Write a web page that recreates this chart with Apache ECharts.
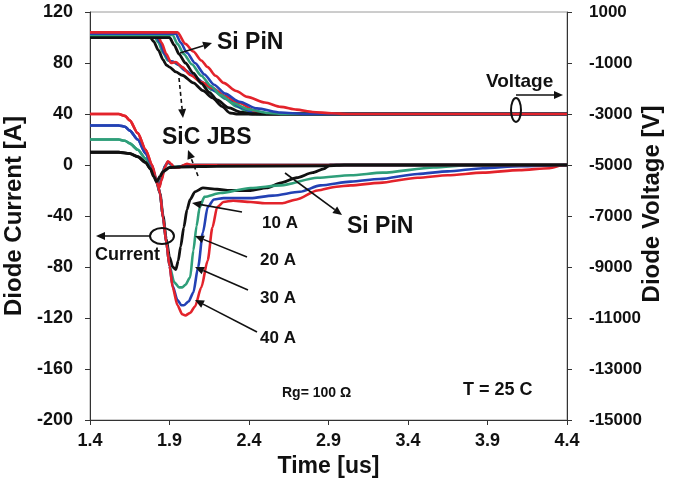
<!DOCTYPE html>
<html><head><meta charset="utf-8">
<script src="https://cdn.jsdelivr.net/npm/echarts@6/dist/echarts.min.js"></script>
<style>html,body{margin:0;padding:0;background:#fff}#c{width:676px;height:482px}</style>
</head><body><div id="c"></div>
<script>
// ---- tick labels ----
const timeTicks = [1.4, 1.9, 2.4, 2.9, 3.4, 3.9, 4.4];
const currentTicks = [-200, -160, -120, -80, -40, 0, 40, 80, 120];
const voltageTicks = [-15000, -13000, -11000, -9000, -7000, -5000, -3000, -1000, 1000];

// ---- diode current [A] vs time [us] : Si PiN ----
const pinRedI = [[1.40,40],[1.58,40],[1.62,38.5],[1.65,35],[1.70,25],[1.75,12],[1.79,0],[1.82,-12],[1.84,-22],[1.86,-42],[1.88,-61],[1.90,-79],[1.92,-96],[1.95,-110],[1.98,-117],[2.00,-118],[2.03,-116],[2.06,-111],[2.10,-96],[2.14,-75],[2.17,-49],[2.20,-33],[2.24,-29],[2.30,-28],[2.41,-29],[2.50,-30],[2.61,-30],[2.70,-27],[2.83,-20],[2.95,-17],[3.04,-16],[3.22,-14],[3.46,-10],[3.65,-8],[3.87,-6],[4.10,-4],[4.29,-2.5],[4.38,0],[4.40,0]];
const pinBlueI = [[1.40,31],[1.58,31],[1.62,30],[1.65,27],[1.70,20],[1.75,9],[1.79,-1],[1.82,-13],[1.84,-22],[1.86,-42],[1.88,-61],[1.90,-79],[1.92,-95],[1.95,-106],[1.975,-110],[1.99,-110],[2.02,-107],[2.05,-100],[2.08,-80],[2.11,-53],[2.14,-33],[2.18,-27],[2.24,-26],[2.41,-26],[2.55,-24],[2.72,-21],[2.85,-16],[3.04,-13],[3.22,-11],[3.46,-7],[3.65,-5],[3.87,-2.5],[4.10,-1],[4.38,0],[4.40,0]];
const pinGreenI = [[1.40,20],[1.58,20],[1.62,19],[1.65,17],[1.70,12],[1.75,5],[1.79,-3],[1.82,-13],[1.84,-22],[1.86,-42],[1.88,-61],[1.90,-79],[1.93,-92],[1.96,-96],[1.98,-96],[2.00,-94],[2.03,-88],[2.05,-67],[2.07,-48],[2.09,-33],[2.12,-25],[2.22,-22],[2.41,-18],[2.60,-16],[2.83,-10],[3.04,-8],[3.24,-6],[3.56,-2],[3.80,0],[4.40,0]];
const pinBlackI = [[1.40,10],[1.58,10],[1.65,9],[1.70,6.5],[1.75,2],[1.78,-3],[1.80,-7],[1.82,-14],[1.84,-22],[1.86,-40],[1.88,-58],[1.90,-72],[1.92,-80],[1.94,-82],[1.955,-75],[1.97,-64],[1.99,-49],[2.01,-35],[2.03,-27],[2.06,-21],[2.11,-18],[2.20,-19],[2.28,-20],[2.41,-20],[2.51,-18],[2.60,-14],[2.70,-10],[2.80,-6],[2.87,-3],[2.91,0],[4.40,0]];

// ---- diode current [A] : SiC JBS ----
const sicRedI = [[1.40,40],[1.58,40],[1.62,38.5],[1.65,35],[1.70,25],[1.75,12],[1.79,0],[1.81,-10],[1.835,-18],[1.85,-12],[1.87,-2],[1.89,3],[1.91,1],[1.93,-2],[1.96,-2],[1.99,0],[2.01,1],[2.04,0],[4.40,0]];
const sicBlueI = [[1.40,31],[1.58,31],[1.62,30],[1.65,27],[1.70,20],[1.75,9],[1.79,-1],[1.81,-10],[1.835,-17],[1.85,-11],[1.87,-1],[1.89,2.5],[1.91,0.5],[1.93,-2],[1.96,-1.5],[2.00,0],[4.40,0]];
const sicGreenI = [[1.40,20],[1.58,20],[1.62,19],[1.65,17],[1.70,12],[1.75,5],[1.79,-3],[1.81,-10],[1.835,-16],[1.85,-10],[1.87,-1],[1.89,2],[1.91,0],[1.93,-1.5],[1.97,-1],[2.00,0],[4.40,0]];
const sicBlackI = [[1.40,10],[1.58,10],[1.65,9],[1.70,6.5],[1.75,2],[1.78,-3],[1.80,-9],[1.82,-13],[1.84,-9],[1.86,-5],[1.90,-2],[1.97,-1.5],[2.20,-1],[2.90,-0.5],[3.00,0],[4.40,0]];

// ---- diode voltage [V] : SiC JBS ----
const sicBlackV = [[1.40,0],[1.78,0],[1.80,-150],[1.83,-500],[1.86,-880],[1.88,-1080],[1.90,-1160],[1.94,-1350],[1.98,-1480],[2.05,-1780],[2.11,-2080],[2.17,-2370],[2.23,-2700],[2.28,-2960],[2.32,-3000],[4.40,-3000]];
const sicGreenV = [[1.40,100],[1.80,100],[1.83,-200],[1.86,-600],[1.89,-900],[1.92,-950],[1.95,-1050],[1.99,-1250],[2.04,-1470],[2.10,-1760],[2.17,-2060],[2.25,-2400],[2.32,-2700],[2.40,-2930],[2.45,-3000],[4.40,-3000]];
const sicBlueV = [[1.40,150],[1.81,150],[1.84,-200],[1.87,-650],[1.90,-920],[1.93,-960],[1.96,-1080],[2.00,-1300],[2.05,-1500],[2.12,-1800],[2.19,-2100],[2.27,-2450],[2.35,-2750],[2.43,-2950],[2.48,-3000],[4.40,-3000]];
const sicRedV = [[1.40,200],[1.82,200],[1.85,-200],[1.88,-650],[1.91,-1000],[1.94,-960],[1.98,-1160],[2.03,-1470],[2.10,-1750],[2.17,-1980],[2.25,-2300],[2.34,-2570],[2.45,-2920],[2.51,-3000],[4.40,-3000]];

// ---- diode voltage [V] : Si PiN ----
const pinBlackV = [[1.40,0],[1.90,0],[1.93,-300],[1.96,-650],[2.00,-1000],[2.05,-1400],[2.10,-1800],[2.15,-2150],[2.20,-2450],[2.27,-2750],[2.35,-2930],[2.42,-3000],[4.40,-3000]];
const pinGreenV = [[1.40,100],[1.92,100],[1.95,-250],[1.99,-650],[2.04,-1050],[2.10,-1500],[2.16,-1900],[2.22,-2250],[2.30,-2580],[2.40,-2820],[2.52,-2960],[2.62,-3000],[4.40,-3000]];
const pinBlueV = [[1.40,150],[1.94,150],[1.97,-200],[2.01,-600],[2.06,-1000],[2.12,-1450],[2.18,-1850],[2.25,-2200],[2.34,-2520],[2.45,-2780],[2.60,-2940],[2.75,-3000],[4.40,-3000]];
const pinRedV = [[1.40,200],[1.95,200],[2.00,-250],[2.05,-550],[2.10,-900],[2.14,-1160],[2.19,-1500],[2.24,-1780],[2.32,-2100],[2.39,-2330],[2.50,-2550],[2.60,-2720],[2.70,-2830],[2.80,-2920],[2.92,-2970],[3.02,-3000],[4.40,-3000]];

// ---- build ----
const T0 = timeTicks[0];
const V0 = voltageTicks[0];
const C = {red:'#e3232b', blue:'#2341b4', green:'#2f9f7a', black:'#111111'};
const FONT = 'Liberation Sans, Arial, sans-serif';
const LW = 2.6;

function cur(name, data, color, w){
  return {name, type:'line', yAxisIndex:0, showSymbol:false, symbol:'none', smooth:0.25, smoothMonotone:'x',
    lineStyle:{color, width:w||LW}, data:data.map(p=>[+(p[0]-T0).toFixed(4), p[1]]), animation:false, silent:true};
}
function vol(name, data, color, w){
  return {name, type:'line', yAxisIndex:1, showSymbol:false, symbol:'none', smooth:0.25, smoothMonotone:'x',
    lineStyle:{color, width:w||LW}, data:data.map(p=>[+(p[0]-T0).toFixed(4), p[1]-V0]), animation:false, silent:true};
}

function arrow(x1,y1,x2,y2,dashed){
  const a = Math.atan2(y2-y1, x2-x1), L=9, H=4;
  const bx = x2 - L*Math.cos(a), by = y2 - L*Math.sin(a);
  const p1=[bx + H*Math.sin(a), by - H*Math.cos(a)], p2=[bx - H*Math.sin(a), by + H*Math.cos(a)];
  return [
    {type:'line', shape:{x1,y1,x2:bx,y2:by}, style:{stroke:'#111', lineWidth:1.6, lineDash: dashed?[4,3]:null}, z:100},
    {type:'polygon', shape:{points:[[x2,y2],p1,p2]}, style:{fill:'#111'}, z:100}
  ];
}
function T(x,y,s,size,rot){
  const o = {type:'text', x:x, y:y, z:100, style:{text:s, fill:'#111', font:'bold '+size+'px '+FONT, verticalAlign:'middle', textVerticalAlign:'middle'}};
  if (rot){ o.rotation = rot; o.style.align='center'; o.style.textAlign='center'; }
  return o;
}

const graphics = [].concat(
  arrow(180,53,212,43,false),
  arrow(179,78,183,118,true),
  arrow(198,176,188,150,true),
  arrow(150,236,96,236,false),
  arrow(516,95,563,95,false),
  arrow(242,212,192,203,false),
  arrow(247,257,195,236,false),
  arrow(248,290,195,267,false),
  arrow(257,332,195,300,false),
  arrow(285,173,342,215,false),
  [
    {type:'ellipse', shape:{cx:162, cy:236, rx:12, ry:8}, style:{stroke:'#111', lineWidth:2, fill:null}, z:100},
    {type:'ellipse', shape:{cx:516, cy:110, rx:5, ry:12}, style:{stroke:'#111', lineWidth:2, fill:null}, z:100},
  ]
);
graphics.push(
  T(217,43,'Si PiN',23),
  T(162,138,'SiC JBS',23),
  T(486,82,'Voltage',19),
  T(95,255,'Current',18),
  T(262,223,'10 A',17),
  T(260,260,'20 A',17),
  T(260,298,'30 A',17),
  T(260,338,'40 A',17),
  T(347,227,'Si PiN',23),
  T(282,393,'Rg= 100 \u03A9',14),
  T(463,390,'T = 25 C',18),
  T(652,204,'Diode Voltage [V]',24,Math.PI/2)
);

const labelStyle = {color:'#111', fontWeight:'bold', fontSize:18, fontFamily:FONT};
const nameStyle = {color:'#111', fontWeight:'bold', fontSize:23, fontFamily:FONT};

const option = {
  backgroundColor:'#fff',
  animation:false,
  grid:{left:90, right:109, top:12, bottom:62, containLabel:false, outerBoundsMode:'none', show:true, borderColor:'#9a9a9a', borderWidth:1},
  xAxis:{type:'value', min:0, max:timeTicks[timeTicks.length-1]-T0, interval:timeTicks[1]-timeTicks[0],
    axisLine:{show:true, onZero:false, lineStyle:{color:'#333', width:1}},
    axisTick:{show:true, inside:false, length:5, lineStyle:{color:'#333'}},
    axisLabel:Object.assign({margin:12, formatter:v=>(v+T0).toFixed(1)}, labelStyle),
    splitLine:{show:false},
    name:'Time [us]', nameLocation:'middle', nameGap:34, nameTextStyle:nameStyle},
  yAxis:[
    {type:'value', position:'left', min:currentTicks[0], max:currentTicks[currentTicks.length-1], interval:currentTicks[1]-currentTicks[0],
      axisLine:{show:true, onZero:false, lineStyle:{color:'#333', width:1}},
      axisTick:{show:true, inside:false, length:5, lineStyle:{color:'#333'}},
      axisLabel:Object.assign({margin:17}, labelStyle), splitLine:{show:false},
      name:'Diode Current [A]', nameLocation:'middle', nameRotate:90, nameGap:48, nameTextStyle:Object.assign({}, nameStyle, {fontSize:24})},
    {type:'value', position:'right', min:0, max:voltageTicks[voltageTicks.length-1]-V0, interval:voltageTicks[1]-voltageTicks[0],
      axisLine:{show:true, onZero:false, lineStyle:{color:'#333', width:1}},
      axisTick:{show:true, inside:false, length:5, lineStyle:{color:'#333'}},
      axisLabel:Object.assign({margin:22, formatter:v=>String(v+V0)}, labelStyle, {fontSize:17}), splitLine:{show:false}},
    {type:'value', position:'right', min:0, max:voltageTicks[voltageTicks.length-1]-V0, interval:voltageTicks[1]-voltageTicks[0],
      axisLine:{show:false}, axisTick:{show:true, inside:true, length:5, lineStyle:{color:'#333'}},
      axisLabel:{show:false}, splitLine:{show:false}}
  ],
  series:[
    cur('PiN 10A', pinBlackI, C.black, 2.8),
    cur('PiN 20A', pinGreenI, C.green),
    cur('PiN 30A', pinBlueI, C.blue),
    cur('PiN 40A', pinRedI, C.red),
    cur('SiC 20A', sicGreenI, C.green),
    cur('SiC 30A', sicBlueI, C.blue),
    cur('SiC 40A', sicRedI, C.red),
    cur('SiC 10A', sicBlackI, C.black, 3),
    vol('SiC V 20A', sicGreenV, C.green),
    vol('SiC V 30A', sicBlueV, C.blue),
    vol('SiC V 40A', sicRedV, C.red),
    vol('SiC V 10A', sicBlackV, C.black, 2.8),
    vol('PiN V 10A', pinBlackV, C.black, 2.8),
    vol('PiN V 20A', pinGreenV, C.green),
    vol('PiN V 30A', pinBlueV, C.blue),
    vol('PiN V 40A', pinRedV, C.red)
  ],
  graphic:graphics
};
const chart = echarts.init(document.getElementById('c'), null, {renderer:'canvas'});
chart.setOption(option);
</script></body></html>
